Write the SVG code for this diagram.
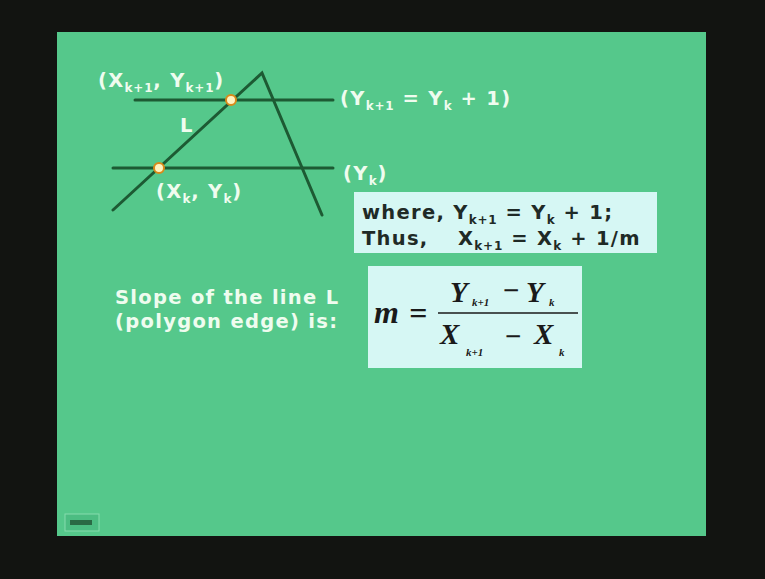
<svg xmlns="http://www.w3.org/2000/svg" width="765" height="579" viewBox="0 0 765 579">
<style>
.lbl{font-family:"DejaVu Sans","Verdana",sans-serif;font-weight:bold;font-size:19.5px;letter-spacing:1.3px;fill:#effcef}
.dk{font-family:"DejaVu Sans","Verdana",sans-serif;font-weight:bold;font-size:19.5px;letter-spacing:1.3px;fill:#1f2a26}
.sub{font-size:12px;letter-spacing:0.8px}
.edge{stroke:#1d5a33;stroke-width:3;fill:none;stroke-linecap:round}
.pt{fill:#fff3c0;stroke:#d98a1a;stroke-width:2}
.box{fill:#d6f7f4}
.mth{font-family:"Liberation Serif","Times New Roman",serif;font-style:italic;font-weight:bold;fill:#1a1a1a}
.msub{font-family:"Liberation Serif",serif;font-style:italic;font-weight:bold;font-size:11px;fill:#1a1a1a}
</style>
<rect x="0" y="0" width="765" height="579" fill="#121411"/>
<rect x="57" y="32" width="649" height="504" fill="#55c88b"/>
<g id="connectors">
<line class="edge" x1="135" y1="100" x2="333" y2="100"/>
<line class="edge" x1="113" y1="168" x2="333" y2="168"/>
<polyline class="edge" points="113,210 262,73 322,215"/>
</g>
<g id="point-top"><circle class="pt" cx="231" cy="100" r="5"/></g>
<g id="point-bottom"><circle class="pt" cx="159" cy="168" r="5"/></g>
<g id="label-top"><text class="lbl" x="98" y="87">(X<tspan class="sub" dy="5">k+1</tspan><tspan dy="-5">, Y</tspan><tspan class="sub" dy="5">k+1</tspan><tspan dy="-5">)</tspan></text></g>
<g id="label-L"><text class="lbl" x="180" y="132">L</text></g>
<g id="label-bottom"><text class="lbl" x="156" y="198">(X<tspan class="sub" dy="5">k</tspan><tspan dy="-5">, Y</tspan><tspan class="sub" dy="5">k</tspan><tspan dy="-5">)</tspan></text></g>
<g id="label-yk1"><text class="lbl" x="340" y="105">(Y<tspan class="sub" dy="5">k+1</tspan><tspan dy="-5"> = Y</tspan><tspan class="sub" dy="5">k</tspan><tspan dy="-5"> + 1)</tspan></text></g>
<g id="label-yk"><text class="lbl" x="343" y="180">(Y<tspan class="sub" dy="5">k</tspan><tspan dy="-5">)</tspan></text></g>
<g id="where-box">
<rect class="box" x="354" y="192" width="303" height="61"/>
<text class="dk" x="362" y="219">where, Y<tspan class="sub" dy="5">k+1</tspan><tspan dy="-5"> = Y</tspan><tspan class="sub" dy="5">k</tspan><tspan dy="-5"> + 1;</tspan></text>
<text class="dk" x="362" y="245">Thus,<tspan x="458">X</tspan><tspan class="sub" dy="5">k+1</tspan><tspan dy="-5"> = X</tspan><tspan class="sub" dy="5">k</tspan><tspan dy="-5"> + 1/m</tspan></text>
</g>
<g id="slope-text">
<text class="lbl" x="115" y="304">Slope of the line L</text>
<text class="lbl" x="115" y="328">(polygon edge) is:</text>
</g>
<g id="formula-box">
<rect class="box" x="368" y="266" width="214" height="102"/>
<text class="mth" x="374" y="323" font-size="32">m</text>
<text class="mth" x="409" y="324" font-size="32" font-style="normal">=</text>
<line x1="438" y1="313" x2="578" y2="313" stroke="#1a1a1a" stroke-width="1.5"/>
<text class="mth" x="450" y="302" font-size="29">Y</text>
<text class="msub" x="472" y="306">k+1</text>
<text class="mth" x="502" y="300" font-size="29" font-style="normal">−</text>
<text class="mth" x="526" y="302" font-size="29">Y</text>
<text class="msub" x="549" y="306">k</text>
<text class="mth" x="440" y="344" font-size="29">X</text>
<text class="msub" x="466" y="356">k+1</text>
<text class="mth" x="504" y="346" font-size="29" font-style="normal">−</text>
<text class="mth" x="534" y="344" font-size="29">X</text>
<text class="msub" x="559" y="356">k</text>
</g>
<g id="nav-button">
<rect x="65" y="514" width="34" height="17" fill="#4cbd82" stroke="#86dcad" stroke-width="1"/>
<rect x="70" y="520" width="22" height="5" fill="#2a6a45"/>
</g>
</svg>
